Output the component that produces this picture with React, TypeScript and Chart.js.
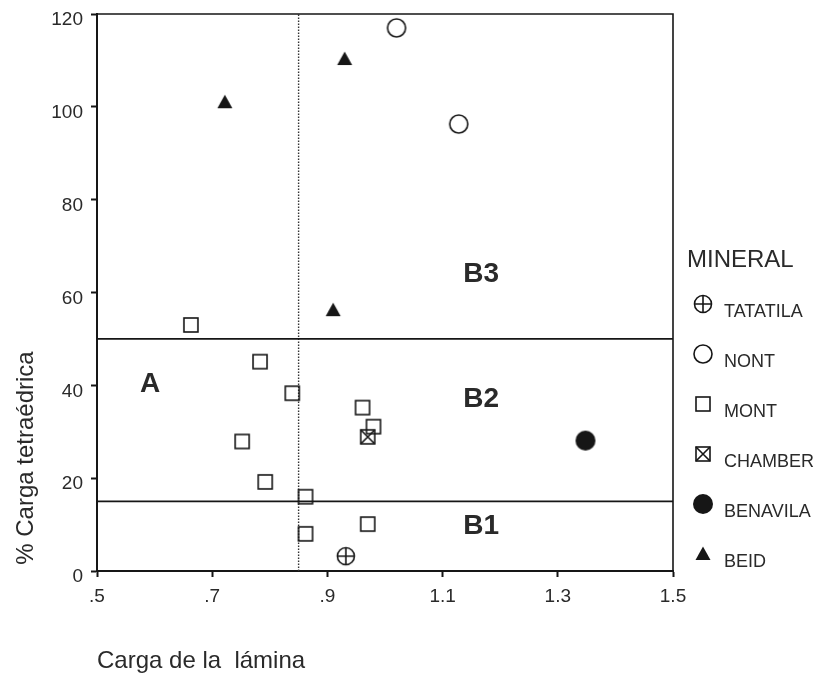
import React, { useEffect, useRef } from 'react';
import { Chart, registerables } from 'chart.js';

Chart.register(...registerables);

// ---------- data ----------
const mineralNames = ['TATATILA', 'NONT', 'MONT', 'CHAMBER', 'BENAVILA', 'BEID'];

const tatatilaX = [0.932];
const tatatilaY = [3.2];
const nontX = [1.02, 1.128];
const nontY = [117, 96.3];
const montX = [0.663, 0.783, 0.839, 0.752, 0.792, 0.862, 0.862, 0.961, 0.98, 0.97];
const montY = [53, 45.1, 38.3, 27.9, 19.2, 16.0, 8.0, 35.2, 31.1, 10.1];
const chamberX = [0.97];
const chamberY = [28.9];
const benavilaX = [1.348];
const benavilaY = [28.1];
const beidX = [0.722, 0.93, 0.91];
const beidY = [101, 110.3, 56.2];

const xTickValues = [0.5, 0.7, 0.9, 1.1, 1.3, 1.5];
const xTickLabels = ['.5', '.7', '.9', '1.1', '1.3', '1.5'];
const yTickValues = [0, 20, 40, 60, 80, 100, 120];

const hLineValues = [50, 15];
const vLineValue = 0.85;

const regionNames = ['A', 'B3', 'B2', 'B1'];
const regionX = [0.592, 1.167, 1.167, 1.167];
const regionY = [40.3, 64, 36.9, 9.7];

const xTitle = 'Carga de la  lámina';
const yTitle = '% Carga tetraédrica';
const legendTitle = 'MINERAL';

// ---------- styles ----------
const FONT = '"Liberation Sans", Arial, Helvetica, sans-serif';
const INK = '#161616';
const TEXT = '#2a2a2a';

function makeSymbol(kind: string): HTMLCanvasElement {
  const s = 24;
  const c = document.createElement('canvas');
  c.width = s;
  c.height = s;
  const g = c.getContext('2d') as CanvasRenderingContext2D;
  const m = s / 2;
  g.strokeStyle = INK;
  g.fillStyle = INK;
  g.lineWidth = 1.6;
  if (kind === 'circlePlus') {
    g.beginPath();
    g.arc(m, m, 8.5, 0, Math.PI * 2);
    g.stroke();
    g.beginPath();
    g.moveTo(m - 8.5, m);
    g.lineTo(m + 8.5, m);
    g.moveTo(m, m - 8.5);
    g.lineTo(m, m + 8.5);
    g.stroke();
  } else if (kind === 'circle') {
    g.beginPath();
    g.arc(m, m, 9, 0, Math.PI * 2);
    g.stroke();
  } else if (kind === 'square') {
    g.strokeRect(m - 7, m - 7, 14, 14);
  } else if (kind === 'squareX') {
    g.strokeRect(m - 7, m - 7, 14, 14);
    g.beginPath();
    g.moveTo(m - 7, m - 7);
    g.lineTo(m + 7, m + 7);
    g.moveTo(m + 7, m - 7);
    g.lineTo(m - 7, m + 7);
    g.stroke();
  } else if (kind === 'disc') {
    g.beginPath();
    g.arc(m, m, 10, 0, Math.PI * 2);
    g.fill();
  } else if (kind === 'triangle') {
    g.beginPath();
    g.moveTo(m, m - 7.5);
    g.lineTo(m + 7.5, m + 6);
    g.lineTo(m - 7.5, m + 6);
    g.closePath();
    g.fill();
  }
  return c;
}

const pts = (xs: number[], ys: number[]) => xs.map((x, i) => ({ x, y: ys[i] }));

export default function App() {
  const ref = useRef<HTMLCanvasElement | null>(null);

  useEffect(() => {
    const canvas = ref.current;
    if (!canvas) return;
    const symbols = [
      makeSymbol('circlePlus'),
      makeSymbol('circle'),
      makeSymbol('square'),
      makeSymbol('squareX'),
      makeSymbol('disc'),
      makeSymbol('triangle'),
    ];
    const series = [
      pts(tatatilaX, tatatilaY),
      pts(nontX, nontY),
      pts(montX, montY),
      pts(chamberX, chamberY),
      pts(benavilaX, benavilaY),
      pts(beidX, beidY),
    ];

    const pointSets: any[] = mineralNames.map((name, i) => ({
      type: 'scatter',
      label: name,
      data: series[i],
      pointStyle: symbols[i],
      pointRadius: 6,
      order: 1,
    }));

    const lineSets: any[] = [
      ...hLineValues.map((v) => ({
        type: 'line',
        label: 'h' + v,
        data: [
          { x: xTickValues[0], y: v },
          { x: xTickValues[xTickValues.length - 1], y: v },
        ],
        borderColor: INK,
        borderWidth: 1.6,
        pointRadius: 0,
        showLine: true,
        fill: false,
        order: 10,
      })),
      {
        type: 'line',
        label: 'v',
        data: [
          { x: vLineValue, y: yTickValues[0] },
          { x: vLineValue, y: yTickValues[yTickValues.length - 1] },
        ],
        borderColor: '#333',
        borderWidth: 1.4,
        borderDash: [1.5, 1.5],
        pointRadius: 0,
        showLine: true,
        fill: false,
        order: 10,
      },
    ];

    const decor = {
      id: 'decor',
      afterDraw(chart: any) {
        const ctx = chart.ctx as CanvasRenderingContext2D;
        const xs = chart.scales.x;
        const ys = chart.scales.y;
        const area = chart.chartArea;
        ctx.save();
        // frame top and right
        ctx.strokeStyle = INK;
        ctx.lineWidth = 1.6;
        ctx.beginPath();
        ctx.moveTo(area.left, area.top);
        ctx.lineTo(area.right, area.top);
        ctx.lineTo(area.right, area.bottom);
        ctx.stroke();

        // region labels
        ctx.fillStyle = TEXT;
        ctx.font = `bold 28px ${FONT}`;
        ctx.textAlign = 'center';
        ctx.textBaseline = 'middle';
        regionNames.forEach((n, i) => {
          ctx.fillText(n, xs.getPixelForValue(regionX[i]), ys.getPixelForValue(regionY[i]));
        });

        // axis titles
        ctx.font = `24px ${FONT}`;
        ctx.textAlign = 'left';
        ctx.textBaseline = 'alphabetic';
        ctx.fillText(xTitle, 97, 668);
        ctx.save();
        ctx.translate(33, 458);
        ctx.rotate(-Math.PI / 2);
        ctx.textAlign = 'center';
        ctx.fillText(yTitle, 0, 0);
        ctx.restore();

        // legend
        ctx.font = `24px ${FONT}`;
        ctx.textAlign = 'left';
        ctx.fillText(legendTitle, 687, 267);
        ctx.font = `18px ${FONT}`;
        mineralNames.forEach((n, i) => {
          const cy = 304 + i * 50;
          ctx.drawImage(symbols[i], 703 - 12, cy - 12);
          ctx.fillText(n, 724, cy + 13);
        });
        ctx.restore();
      },
    };

    const chart = new Chart(canvas, {
      type: 'scatter',
      data: { datasets: [...lineSets, ...pointSets] },
      options: {
        animation: false,
        responsive: false,
        devicePixelRatio: 1,
        layout: { padding: { left: 0, top: 14, right: 149, bottom: 0 } },
        plugins: { legend: { display: false }, tooltip: { enabled: false } },
        scales: {
          x: {
            type: 'linear',
            min: xTickValues[0],
            max: xTickValues[xTickValues.length - 1],
            afterFit: (s: any) => {
              s.height = 102;
              s.paddingLeft = 0;
              s.paddingRight = 0;
              s.paddingTop = 0;
              s.paddingBottom = 0;
            },
            afterBuildTicks: (s: any) => {
              s.ticks = xTickValues.map((v) => ({ value: v }));
            },
            ticks: {
              callback: (_v: any, i: number) => xTickLabels[i],
              font: { family: FONT, size: 19 },
              color: TEXT,
              padding: 8,
              maxRotation: 0,
            },
            grid: {
              drawOnChartArea: false,
              drawTicks: true,
              tickLength: 6,
              tickColor: INK,
              tickWidth: 2,
            },
            border: { display: true, color: INK, width: 2 },
          },
          y: {
            type: 'linear',
            min: yTickValues[0],
            max: yTickValues[yTickValues.length - 1],
            afterFit: (s: any) => {
              s.width = 97;
              s.paddingLeft = 0;
              s.paddingRight = 0;
              s.paddingTop = 0;
              s.paddingBottom = 0;
            },
            afterBuildTicks: (s: any) => {
              s.ticks = yTickValues.map((v) => ({ value: v }));
            },
            ticks: {
              callback: (v: any) => String(v),
              font: { family: FONT, size: 19 },
              color: TEXT,
              padding: 8,
              labelOffset: 6,
            },
            grid: {
              drawOnChartArea: false,
              drawTicks: true,
              tickLength: 6,
              tickColor: INK,
              tickWidth: 2,
            },
            border: { display: true, color: INK, width: 2 },
          },
        },
      } as any,
      plugins: [decor],
    });
    return () => chart.destroy();
  }, []);

  return (
    <div style={{ position: 'fixed', left: 0, top: 0, width: 822, height: 673, background: '#fff' }}>
      <canvas ref={ref} width={822} height={673} style={{ display: 'block' }} />
    </div>
  );
}
